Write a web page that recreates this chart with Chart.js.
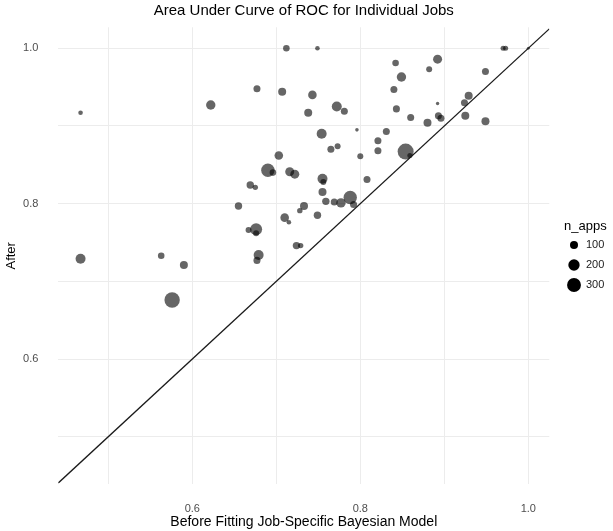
<!DOCTYPE html>
<html>
<head>
<meta charset="utf-8">
<script src="https://cdn.jsdelivr.net/npm/chart.js@4.4.1/dist/chart.umd.min.js"></script>
<style>
  body { margin: 0; background: #fff; }
</style>
</head>
<body>
<canvas id="grafico" width="613" height="531"></canvas>
<script>
const titulo = "Area Under Curve of ROC for Individual Jobs";

// AUC before / after fitting, and number of applications per job
const antes = [
  0.712, 0.749, 0.677, 0.707, 0.743, 0.772, 0.781, 0.738, 0.796, 0.754,
  0.821, 0.765, 0.773, 0.800, 0.821, 0.703, 0.690, 0.696, 0.716, 0.722,
  0.755, 0.756, 0.808, 0.669, 0.675, 0.755, 0.655, 0.733, 0.728, 0.759,
  0.769, 0.777, 0.788, 0.792, 0.749, 0.710, 0.715, 0.676, 0.667, 0.676,
  0.724, 0.729, 0.679, 0.677, 0.467, 0.622, 0.467, 0.563, 0.590, 0.576,
  0.970, 0.973, 1.000, 0.842, 0.892, 0.882, 0.849, 0.949, 0.840, 0.929,
  0.924, 0.892, 0.843, 0.860, 0.893, 0.896, 0.880, 0.925, 0.949, 0.831,
  0.854, 0.859
];
const depois = [
  1.000, 1.000, 0.948, 0.944, 0.940, 0.925, 0.919, 0.917, 0.895, 0.890,
  0.881, 0.870, 0.874, 0.861, 0.868, 0.862, 0.843, 0.840, 0.841, 0.838,
  0.832, 0.828, 0.831, 0.824, 0.821, 0.815, 0.797, 0.797, 0.791, 0.803,
  0.802, 0.801, 0.808, 0.799, 0.785, 0.782, 0.776, 0.767, 0.766, 0.762,
  0.746, 0.746, 0.734, 0.727, 0.917, 0.927, 0.729, 0.733, 0.721, 0.676,
  1.000, 1.000, 1.000, 0.981, 0.986, 0.973, 0.963, 0.970, 0.947, 0.939,
  0.930, 0.929, 0.922, 0.911, 0.913, 0.910, 0.904, 0.913, 0.906, 0.893,
  0.867, 0.862
];
const nApps = [
  68, 33, 77, 100, 115, 156, 77, 100, 20, 156,
  77, 77, 56, 56, 77, 115, 280, 68, 127, 127,
  156, 56, 77, 86, 46, 100, 86, 100, 46, 86,
  77, 138, 280, 77, 86, 115, 33, 225, 56, 56,
  86, 46, 156, 77, 33, 138, 156, 68, 100, 370,
  40, 40, 14, 68, 127, 56, 138, 77, 77, 100,
  77, 18, 77, 77, 77, 77, 100, 100, 100, 77,
  400, 40
];

const ticksX = [0.5, 0.6, 0.7, 0.8, 0.9, 1.0];
const ticksY = [0.5, 0.6, 0.7, 0.8, 0.9, 1.0];
const rotulados = [0.6, 0.8, 1.0];
const legendaN = [100, 200, 300];

const xMin = 0.4405, xMax = 1.025;
const yMin = 0.4388, yMax = 1.027;

const fonte = "'Liberation Sans', Arial, Helvetica, sans-serif";
const raio = n => 0.4 * Math.sqrt(n);

const rotulo = v => {
  const r = Math.round(v * 10) / 10;
  return rotulados.some(t => Math.abs(t - r) < 1e-9) && Math.abs(v - r) < 1e-9 ? r.toFixed(1) : "";
};

const extras = {
  id: "extras",
  afterDraw(chart) {
    const ctx = chart.ctx;
    const area = chart.chartArea;
    ctx.save();
    ctx.fillStyle = "#000";
    ctx.font = "15px " + fonte;
    ctx.textAlign = "center";
    ctx.textBaseline = "middle";
    ctx.fillText(titulo, (area.left + area.right) / 2, 11);

    // legenda de tamanho
    ctx.textAlign = "left";
    ctx.font = "13px " + fonte;
    ctx.fillText("n_apps", 564, 226);
    ctx.font = "11px " + fonte;
    legendaN.forEach((n, i) => {
      const y = 245 + i * 20;
      ctx.beginPath();
      ctx.arc(574, y, raio(n), 0, Math.PI * 2);
      ctx.fillStyle = "#000";
      ctx.fill();
      ctx.fillStyle = "#1a1a1a";
      ctx.fillText(String(n), 586, y);
    });
    ctx.restore();
  }
};

new Chart(document.getElementById("grafico"), {
  type: "bubble",
  data: {
    datasets: [
      {
        type: "line",
        data: [{ x: xMin, y: xMin }, { x: xMax, y: xMax }],
        borderColor: "#1a1a1a",
        borderWidth: 1.3,
        pointRadius: 0,
        order: 0
      },
      {
        data: antes.map((x, i) => ({ x, y: depois[i], r: raio(nApps[i]) })),
        backgroundColor: "rgba(0,0,0,0.6)",
        borderWidth: 0,
        hoverRadius: 0,
        order: 1
      }
    ]
  },
  options: {
    responsive: false,
    animation: false,
    events: [],
    layout: { padding: { left: 0, right: 63.7, top: 27.3, bottom: 0 } },
    plugins: { legend: { display: false }, title: { display: false }, tooltip: { enabled: false } },
    scales: {
      x: {
        type: "linear",
        min: xMin,
        max: xMax,
        afterBuildTicks: s => { s.ticks = ticksX.map(v => ({ value: v })); },
        afterFit: s => { s.height = 531 - 484.3; },
        border: { display: false },
        grid: { color: "#ececec", lineWidth: 1, drawTicks: false },
        ticks: {
          callback: rotulo,
          autoSkip: false,
          maxRotation: 0,
          padding: 18,
          color: "#4d4d4d",
          font: { family: fonte, size: 11 }
        },
        title: {
          display: true,
          text: "Before Fitting Job-Specific Bayesian Model",
          color: "#000",
          font: { family: fonte, size: 14 },
          padding: { top: 0, bottom: 0 }
        }
      },
      y: {
        type: "linear",
        min: yMin,
        max: yMax,
        afterBuildTicks: s => { s.ticks = ticksY.map(v => ({ value: v })); },
        afterFit: s => { s.width = 58.3; },
        border: { display: false },
        grid: { color: "#ececec", lineWidth: 1, drawTicks: false },
        ticks: {
          callback: rotulo,
          autoSkip: false,
          padding: 20,
          color: "#4d4d4d",
          font: { family: fonte, size: 11 }
        },
        title: {
          display: true,
          text: "After",
          color: "#000",
          font: { family: fonte, size: 13 },
          padding: { top: 4, bottom: 0 }
        }
      }
    }
  },
  plugins: [extras]
});
</script>
</body>
</html>
